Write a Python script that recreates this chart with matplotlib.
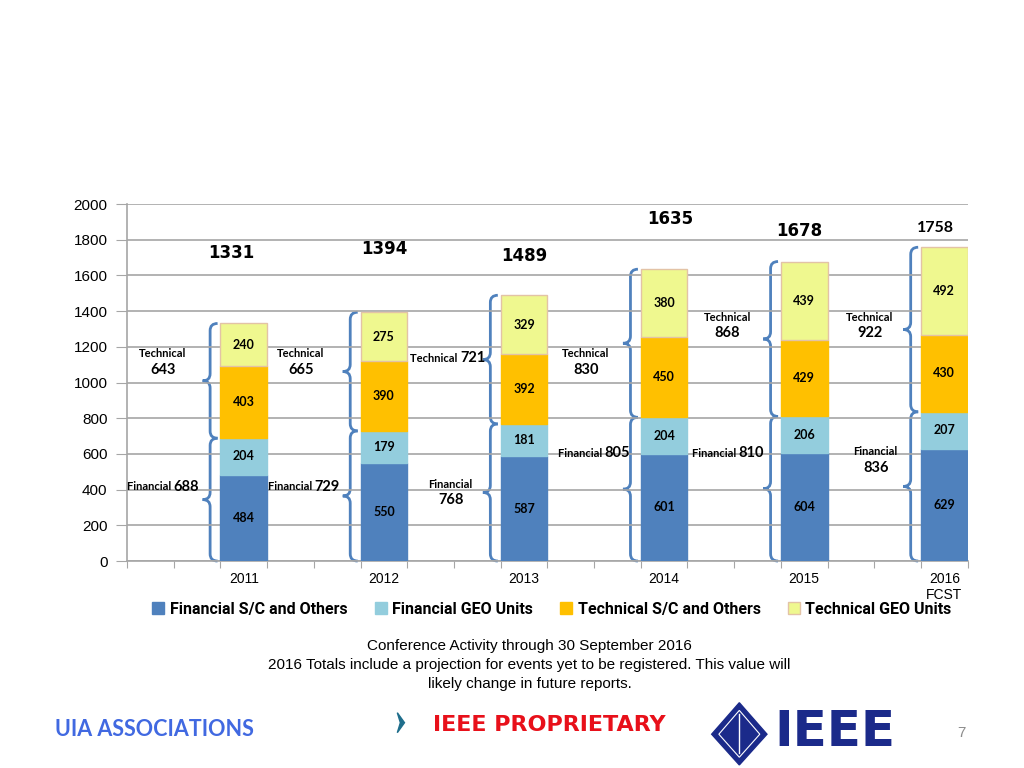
import matplotlib.pyplot as plt
from matplotlib.path import Path
from matplotlib.patches import PathPatch, Polygon

years = ["2011", "2012", "2013", "2014", "2015", "2016\nFCST"]
fin_sc = [484, 550, 587, 601, 604, 629]
fin_geo = [204, 179, 181, 204, 206, 207]
tech_sc = [403, 390, 392, 450, 429, 430]
tech_geo = [240, 275, 329, 380, 439, 492]
series_names = ["Financial S/C and Others", "Financial GEO Units",
                "Technical S/C and Others", "Technical GEO Units"]
colors = ["#4F81BD", "#93CDDD", "#FFC000", "#EFF88F"]

# label placement (slot units / data units)
total_pos = [(2.23, 1725), (5.52, 1748), (8.50, 1709), (11.64, 1916), (14.40, 1849), (17.32, 1866)]
tech_pos = [(0.77, 1160, False), (3.72, 1160, False), (7.13, 1137, True),
            (9.82, 1160, False), (12.86, 1367, False), (15.90, 1367, False)]
fin_pos = [(1.0, 415, True), (4.02, 415, True), (6.93, 431, False),
           (10.23, 605, True), (13.10, 605, True), (16.03, 611, False)]

CAL = ["Lato", "DejaVu Sans"]
ARIAL = ["Liberation Sans", "DejaVu Sans"]


def brace(ax, x0, y0, y1, d=0.16, e=40, color="#4F81BD"):
    mid = (y0 + y1) / 2
    verts = [(x0 + d, y1), (x0, y1), (x0, y1 - e),
             (x0, mid + e),
             (x0, mid), (x0 - d, mid),
             (x0, mid), (x0, mid - e),
             (x0, y0 + e),
             (x0, y0), (x0 + d, y0)]
    codes = [Path.MOVETO, Path.CURVE3, Path.CURVE3, Path.LINETO,
             Path.CURVE3, Path.CURVE3, Path.CURVE3, Path.CURVE3,
             Path.LINETO, Path.CURVE3, Path.CURVE3]
    ax.add_patch(PathPatch(Path(verts, codes), fill=False, lw=2, color=color, clip_on=False))


def group_label(ax, word, value, x, y, inline):
    if inline:
        ax.text(x, y, word + " ", ha="right", va="center", fontsize=8,
                fontweight="bold", family=CAL)
        ax.text(x, y, str(value), ha="left", va="center", fontsize=10.5,
                fontweight="bold", family=CAL)
    else:
        ax.text(x, y, word, ha="center", va="center", fontsize=8,
                fontweight="bold", family=CAL)
        ax.text(x, y - 88, str(value), ha="center", va="center", fontsize=10.5,
                fontweight="bold", family=CAL)


fig = plt.figure(figsize=(10.24, 7.68), dpi=100)
ax = fig.add_axes([0.124, 0.2695, 0.821, 0.4648])

xs = [2.5 + 3 * i for i in range(len(years))]
bottom = [0] * len(years)
for vals, col, name in zip([fin_sc, fin_geo, tech_sc, tech_geo], colors, series_names):
    edge = "#E3C3A6" if col == "#EFF88F" else col
    ax.bar(xs, vals, width=1.0, bottom=bottom, color=col, edgecolor=edge,
           linewidth=1, label=name, zorder=3)
    for x, b, v in zip(xs, bottom, vals):
        ax.text(x, b + v / 2, str(v), ha="center", va="center", fontsize=9,
                fontweight="bold", family=CAL, zorder=4)
    bottom = [b + v for b, v in zip(bottom, vals)]

fin_tot = [a + b for a, b in zip(fin_sc, fin_geo)]
tech_tot = [a + b for a, b in zip(tech_sc, tech_geo)]
totals = [a + b for a, b in zip(fin_tot, tech_tot)]

for i, x in enumerate(xs):
    bx = x - 0.5 - 0.22
    brace(ax, bx, 0, fin_tot[i])
    brace(ax, bx, fin_tot[i], totals[i])
    px, py, inl = tech_pos[i]
    group_label(ax, "Technical", tech_tot[i], px, py, inl)
    px, py, inl = fin_pos[i]
    group_label(ax, "Financial", fin_tot[i], px, py, inl)
    tx, ty = total_pos[i]
    if i == 5:
        ax.text(tx, ty, str(totals[i]), ha="center", va="center", fontsize=11.5,
                fontweight="bold", family=CAL)
    else:
        ax.text(tx, ty, str(totals[i]), ha="center", va="center", fontsize=12,
                fontweight="bold", family="DejaVu Sans")

ax.set_xlim(0, 18)
ax.set_ylim(0, 2000)
ax.set_yticks(range(0, 2001, 200))
ax.set_yticklabels([str(v) for v in range(0, 2001, 200)], family=ARIAL, fontsize=11)
ax.yaxis.grid(True, color="#A6A6A6", lw=1.2, zorder=0)
ax.set_xticks(range(0, 19))
ax.set_xticklabels([])
ax.set_xticks(xs, minor=True)
ax.set_xticklabels(years, minor=True, family=ARIAL, fontsize=10, va="top")
ax.tick_params(axis="x", which="minor", length=0, pad=8)
ax.tick_params(axis="x", which="major", length=5, color="#A6A6A6")
ax.tick_params(axis="y", length=8, color="#A6A6A6", pad=6)
for s in ["top", "right"]:
    ax.spines[s].set_visible(False)
for s in ["left", "bottom"]:
    ax.spines[s].set_color("#A6A6A6")
    ax.spines[s].set_linewidth(1.2)

fig.legend(loc="center", bbox_to_anchor=(0.539, 0.207), ncol=4, frameon=False,
           handlelength=0.75, handleheight=0.75, handletextpad=0.35, columnspacing=1.7,
           prop={"family": ["Roboto", "DejaVu Sans"], "weight": "bold", "size": 11.5})

fig.text(0.517, 0.159, "Conference Activity through 30 September 2016", ha="center",
         va="center", fontsize=11, family=ARIAL)
fig.text(0.517, 0.134, "2016 Totals include a projection for events yet to be registered. This value will",
         ha="center", va="center", fontsize=11, family=ARIAL)
fig.text(0.517, 0.109, "likely change in future reports.", ha="center", va="center",
         fontsize=11, family=ARIAL)

# footer
fig.text(0.054, 0.05, "UIA ASSOCIATIONS", ha="left", va="center", fontsize=15.5,
         fontweight="bold", color="#4169E1", family=CAL)
fig.text(0.423, 0.056, "IEEE PROPRIETARY", ha="left", va="center", fontsize=16,
         fontweight="bold", color="#E8101A", family="DejaVu Sans")
fig.patches.append(Polygon([(0.388, 0.072), (0.395, 0.059), (0.388, 0.046), (0.391, 0.059)],
                           closed=True, color="#1F6E8C", transform=fig.transFigure))
fig.patches.append(Polygon([(0.722, 0.085), (0.749, 0.044), (0.722, 0.004), (0.695, 0.044)],
                           closed=True, color="#1B2A8A", transform=fig.transFigure))
fig.patches.append(Polygon([(0.722, 0.075), (0.742, 0.044), (0.722, 0.014), (0.702, 0.044)],
                           closed=True, fill=False, ec="white", lw=0.8, transform=fig.transFigure))
fig.lines.append(plt.Line2D([0.722, 0.722], [0.02, 0.07], color="white", lw=1,
                            transform=fig.transFigure))
fig.text(0.756, 0.047, "IEEE", ha="left", va="center", fontsize=36, fontweight="bold",
         color="#1B2A8A", family="DejaVu Sans")
fig.text(0.935, 0.045, "7", ha="left", va="center", fontsize=11, color="#8C8C8C", family=ARIAL)

fig.savefig("out.png", dpi=100)
